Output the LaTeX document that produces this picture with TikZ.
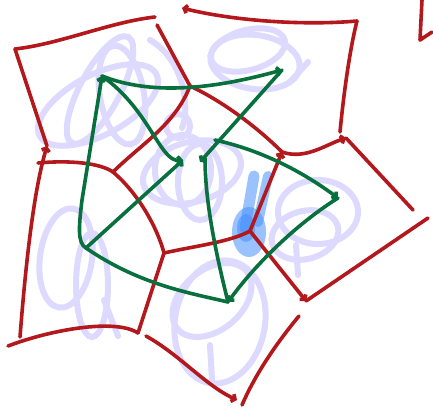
\documentclass[tikz,border=0pt]{standalone}
\usepackage{xcolor}
\usepackage{tikz}
\usetikzlibrary{arrows.meta,calc}

\definecolor{inkred}{RGB}{178,24,28}
\definecolor{inkgreen}{RGB}{8,112,60}
\definecolor{inklilac}{RGB}{221,217,255}
\definecolor{inkblue}{RGB}{70,145,255}

\begin{document}
\begin{tikzpicture}[
  x=1pt, y=-1pt,
  edge/.style={draw=inkred, line width=3.6pt, line cap=round, line join=round},
  dual/.style={draw=inkgreen, line width=3.6pt, line cap=round, line join=round},
  scribble/.style={draw=inklilac, line width=6pt, line cap=round},
  smudge/.style={inkblue, opacity=0.55},
  tip/.style={-{Straight Barb[length=3pt,width=8pt]}},
  backtip/.style={{Straight Barb[length=3pt,width=8pt]}-},
]

\fill[white] (0,0) rectangle (433,408);
\useasboundingbox (0,0) rectangle (433,408);

% lilac scribbles
\draw[scribble, rotate around={28:(98,105)}] (98,105) ellipse [x radius=66, y radius=30];
\draw[scribble, rotate around={62:(100,90)}] (100,90) ellipse [x radius=60, y radius=20];
\draw[scribble, rotate around={100:(122,95)}] (122,95) ellipse [x radius=50, y radius=22];
\draw[scribble] (150,40) .. controls (185,60) and (190,110) .. (182,128);
\draw[scribble, rotate around={-8:(255,62)}] (255,62) ellipse [x radius=45, y radius=27];
\draw[scribble, rotate around={15:(248,50)}] (248,50) ellipse [x radius=38, y radius=20];
\draw[scribble] (290,82) -- (308,62);
\draw[scribble, rotate around={15:(192,172)}] (192,172) ellipse [x radius=50, y radius=30];
\draw[scribble] (200,182) ellipse [x radius=22, y radius=38];
\draw[scribble] (183,170) ellipse [x radius=28, y radius=35];
\draw[scribble] (178,126) circle [radius=12];
\draw[scribble] (318,212) ellipse [x radius=40, y radius=32];
\draw[scribble, rotate around={15:(305,235)}] (305,235) ellipse [x radius=34, y radius=24];
\draw[scribble] (296,245) -- (298,275);
\draw[scribble, rotate around={-8:(66,258)}] (66,258) ellipse [x radius=26, y radius=50];
\draw[scribble] (92,285) ellipse [x radius=16, y radius=52];
\draw[scribble] (104,300) -- (118,336);
\draw[scribble, rotate around={-10:(220,322)}] (220,322) ellipse [x radius=45, y radius=62];
\draw[scribble, rotate around={40:(212,300)}] (212,300) ellipse [x radius=45, y radius=30];
\draw[scribble] (210,345) -- (212,380);

% blue smudge
\fill[smudge] (249,232) ellipse [x radius=17, y radius=25];
\draw[smudge, line width=11pt, line cap=round] (254,176) -- (245,228);
\draw[smudge, line width=10pt, line cap=round] (268,176) -- (258,222);
\fill[smudge] (246,228) ellipse [x radius=9, y radius=14];

% red cells
\coordinate (nw) at (15,49);
\coordinate (n1) at (155,17);
\coordinate (n2) at (157,25);
\coordinate (n3) at (182,8);
\coordinate (ne) at (357,21);
\coordinate (a) at (190,86);
\coordinate (b) at (113,172);
\coordinate (w) at (38,163);
\coordinate (wa) at (47,146);
\coordinate (c) at (164,253);
\coordinate (d) at (250,231);
\coordinate (e) at (282,152);
\coordinate (f) at (346,138);
\coordinate (f2) at (340,132);
\coordinate (fe) at (413,210);
\coordinate (g) at (306,301);
\coordinate (ge) at (428,218);
\coordinate (sw) at (20,337);
\coordinate (s0) at (8,346);
\coordinate (s1) at (138,333);
\coordinate (s2) at (146,336);
\coordinate (s3) at (237,400);
\coordinate (s4) at (299,316);
\coordinate (s5) at (242,405);
\coordinate (k1) at (422,0);
\coordinate (k2) at (420,40);
\coordinate (k3) at (432,32);

\draw[edge] (nw) .. controls (60,44) and (110,22) .. (n1);
\draw[edge] (nw) -- (wa);
\draw[edge, tip] (sw) .. controls (26,260) and (34,190) .. (wa);
\draw[edge] (n2) -- (a);
\draw[edge] (a) .. controls (175,125) and (140,145) .. (b);
\draw[edge] (a) .. controls (220,100) and (255,125) .. (e);
\draw[edge] (w) .. controls (70,160) and (100,163) .. (b);
\draw[edge] (b) .. controls (140,195) and (158,230) .. (c);
\draw[edge] (s0) .. controls (50,330) and (115,318) .. (s1);
\draw[edge] (c) -- (s1);
\draw[edge] (c) .. controls (195,246) and (230,242) .. (d);
\draw[edge, tip] (d) -- (e);
\draw[edge, tip] (e) .. controls (305,160) and (325,145) .. (f);
\draw[edge] (f) -- (fe);
\draw[edge] (f2) .. controls (345,80) and (352,40) .. (ne);
\draw[edge, backtip] (n3) .. controls (230,20) and (300,26) .. (ne);
\draw[edge] (k1) -- (k2) -- (k3);
\draw[edge, tip] (d) -- (g);
\draw[edge] (g) -- (ge);
\draw[edge, tip] (s2) .. controls (180,355) and (205,385) .. (s3);
\draw[edge] (s4) .. controls (275,345) and (255,375) .. (s5);

% green arrows
\coordinate (p1) at (102,76);
\coordinate (p2) at (282,70);
\coordinate (p3) at (183,160);
\coordinate (p4) at (86,248);
\coordinate (p5) at (228,302);
\coordinate (p6) at (200,162);
\coordinate (p7) at (338,198);
\coordinate (p8) at (215,140);
\coordinate (p9) at (205,158);

\draw[dual, tip] (p1) .. controls (150,95) and (210,90) .. (p2);
\draw[dual, tip] (p4) .. controls (77,243) and (79,225) .. (82,200) -- (p1);
\draw[dual, tip] (p1) .. controls (150,110) and (160,162) .. (p3);
\draw[dual, tip] (p4) -- (p3);
\draw[dual] (p4) .. controls (140,285) and (190,293) .. (p5);
\draw[dual] (p5) .. controls (215,250) and (205,200) .. (p9);
\draw[dual, tip] (p2) -- (p6);
\draw[dual, tip] (p8) .. controls (260,150) and (300,170) .. (p7);
\draw[dual, tip] (p7) .. controls (295,225) and (255,265) .. (p5);

\end{tikzpicture}
\end{document}
